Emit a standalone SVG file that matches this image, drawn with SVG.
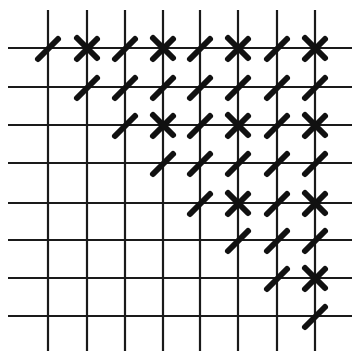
<svg xmlns="http://www.w3.org/2000/svg" xmlns:xlink="http://www.w3.org/1999/xlink" width="356" height="352" viewBox="0 0 356 352">
<style>
.g{stroke:#1a1a1a;stroke-width:2.2;fill:none}
.m{stroke:#111;stroke-width:6;stroke-linecap:round;fill:none}
</style>
<defs>
<path id="s" class="m" d="M-10,11 L10,-9"/>
<g id="x"><path class="m" d="M-10,11 L10,-9"/><path class="m" d="M-10,-10 L10,10"/></g>
</defs>
<rect width="356" height="352" fill="#fff"/>
<g id="grid">
<path class="g" d="M48,10V351M87,10V351M125,10V351M163,10V351M200,10V351M238,10V351M277,10V351M315,10V351"/>
<path class="g" d="M8,48H352M8,87H352M8,125H352M8,163H352M8,203H352M8,240H352M8,278H352M8,316H352"/>
</g>
<g id="marks">
<use xlink:href="#s" x="48" y="48"/><use xlink:href="#x" x="87" y="48"/><use xlink:href="#s" x="125" y="48"/><use xlink:href="#x" x="163" y="48"/><use xlink:href="#s" x="200" y="48"/><use xlink:href="#x" x="238" y="48"/><use xlink:href="#s" x="277" y="48"/><use xlink:href="#x" x="315" y="48"/>
<use xlink:href="#s" x="87" y="87"/><use xlink:href="#s" x="125" y="87"/><use xlink:href="#s" x="163" y="87"/><use xlink:href="#s" x="200" y="87"/><use xlink:href="#s" x="238" y="87"/><use xlink:href="#s" x="277" y="87"/><use xlink:href="#s" x="315" y="87"/>
<use xlink:href="#s" x="125" y="125"/><use xlink:href="#x" x="163" y="125"/><use xlink:href="#s" x="200" y="125"/><use xlink:href="#x" x="238" y="125"/><use xlink:href="#s" x="277" y="125"/><use xlink:href="#x" x="315" y="125"/>
<use xlink:href="#s" x="163" y="163"/><use xlink:href="#s" x="200" y="163"/><use xlink:href="#s" x="238" y="163"/><use xlink:href="#s" x="277" y="163"/><use xlink:href="#s" x="315" y="163"/>
<use xlink:href="#s" x="200" y="203"/><use xlink:href="#x" x="238" y="203"/><use xlink:href="#s" x="277" y="203"/><use xlink:href="#x" x="315" y="203"/>
<use xlink:href="#s" x="238" y="240"/><use xlink:href="#s" x="277" y="240"/><use xlink:href="#s" x="315" y="240"/>
<use xlink:href="#s" x="277" y="278"/><use xlink:href="#x" x="315" y="278"/>
<use xlink:href="#s" x="315" y="316"/>
</g>
</svg>
